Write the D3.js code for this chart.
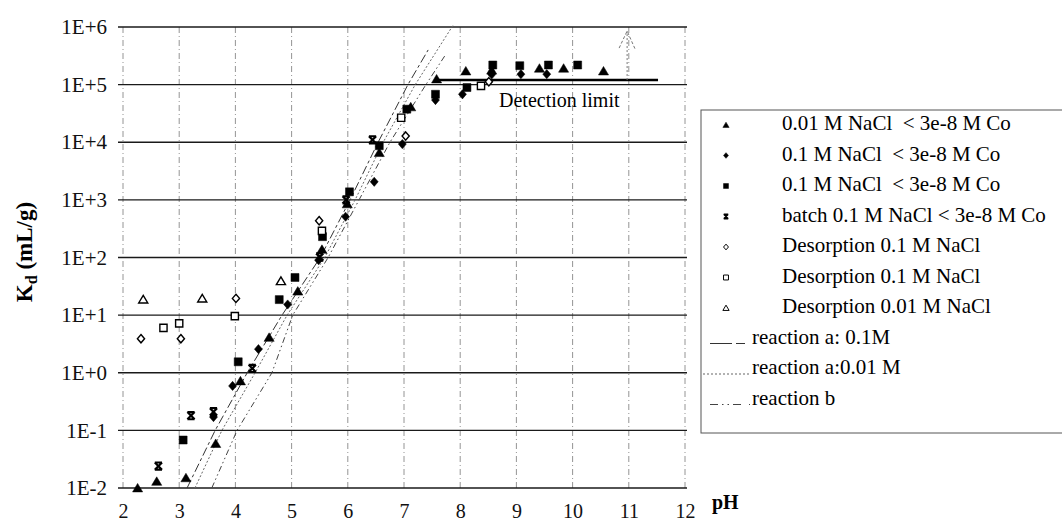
<!DOCTYPE html>
<html>
<head>
<meta charset="utf-8">
<script src="https://cdn.jsdelivr.net/npm/d3@7"></script>
<style>
  body { margin: 0; background: #fff; }
  svg { font-family: "Liberation Serif", "Times New Roman", serif; }
</style>
</head>
<body>
<div id="chart"></div>
<script>
// --- data (pH, Kd in mL/g) ---
const tri001PH = [2.26, 2.6, 3.12, 3.65, 4.09, 4.6, 5.11, 5.54, 5.99, 6.56, 7.12, 7.58, 8.1, 8.56, 9.41, 9.84, 10.55];
const tri001Kd = [0.010, 0.013, 0.015, 0.059, 0.72, 4.1, 26, 138, 850, 6600, 41000, 125000, 172000, 178000, 192000, 192000, 172000];

const dia01PH = [3.61, 3.95, 4.41, 4.93, 5.48, 5.96, 6.47, 6.97, 7.56, 8.04, 8.56, 9.08, 9.54];
const dia01Kd = [0.17, 0.59, 2.57, 15.3, 90, 510, 2060, 9300, 54000, 68000, 150000, 152000, 152000];

const sq01PH = [3.07, 4.05, 4.78, 5.06, 5.55, 6.03, 6.56, 7.05, 7.56, 8.12, 8.58, 9.06, 9.57, 10.09];
const sq01Kd = [0.068, 1.55, 18.6, 45, 230, 1380, 8700, 37500, 68000, 89000, 219000, 213000, 219000, 219000];

const batchPH = [2.63, 3.21, 3.61, 4.3, 5.5, 5.97, 6.44];
const batchKd = [0.024, 0.18, 0.21, 1.19, 102, 1000, 11000];

const desDiaPH = [2.32, 3.03, 4.01, 5.49, 7.03, 8.51];
const desDiaKd = [3.9, 3.9, 19.5, 435, 12800, 112000];

const desSqPH = [2.72, 3.0, 3.99, 5.54, 6.95, 8.37];
const desSqKd = [6.0, 7.2, 9.6, 290, 26600, 95000];

const desTriPH = [2.36, 3.41, 4.81];
const desTriKd = [18.7, 19.5, 39];

// model lines
const reactA01PH = [3.14, 3.64, 4.21, 4.83, 5.51, 6.04, 6.54, 7.07, 7.43];
const reactA01Kd = [0.01, 0.1, 1, 10, 100, 1000, 1e4, 1e5, 4e5];
const reactA001PH = [3.28, 3.76, 4.35, 4.92, 5.59, 6.13, 6.63, 7.2, 7.88];
const reactA001Kd = [0.01, 0.1, 1, 10, 100, 1000, 1e4, 1e5, 1.1e6];
const reactBPH = [3.58, 4.03, 4.65, 5.02, 5.65, 6.2, 6.75, 7.39, 7.73];
const reactBKd = [0.01, 0.1, 1, 10, 100, 1000, 1e4, 1e5, 3.2e5];

const detectPH = [7.55, 11.52];
const detectKd = [1.2e5, 1.2e5];
const arrowPH = 10.97;
const arrowKd = [1.2e5, 8.5e5];

const xTicks = [2, 3, 4, 5, 6, 7, 8, 9, 10, 11, 12];
const yTicks = [1e-2, 1e-1, 1e0, 1e1, 1e2, 1e3, 1e4, 1e5, 1e6];
const yTickLabels = ["1E-2", "1E-1", "1E+0", "1E+1", "1E+2", "1E+3", "1E+4", "1E+5", "1E+6"];

const legendMarkers = [
  "0.01 M NaCl  < 3e-8 M Co",
  "0.1 M NaCl  < 3e-8 M Co",
  "0.1 M NaCl  < 3e-8 M Co",
  "batch 0.1 M NaCl < 3e-8 M Co",
  "Desorption 0.1 M NaCl",
  "Desorption 0.1 M NaCl",
  "Desorption 0.01 M NaCl"
];
const legendLines = ["reaction a: 0.1M", "reaction a:0.01 M", "reaction b"];

// --- layout ---
const width = 1062, height = 525;
const x = d3.scaleLinear().domain([2, 12]).range([123, 685]);
const y = d3.scaleLog().domain([1e-2, 1e6]).range([488, 27]);

const svg = d3.select("#chart").append("svg")
  .attr("width", width).attr("height", height);

// vertical dash-dot grid
svg.append("g").selectAll("line").data(xTicks).enter().append("line")
  .attr("x1", d => x(d)).attr("x2", d => x(d))
  .attr("y1", y(1e6)).attr("y2", y(1e-2))
  .attr("stroke", "#888").attr("stroke-width", 0.9)
  .attr("stroke-dasharray", "6,3,1,3");

// horizontal grid
svg.append("g").selectAll("line").data(yTicks).enter().append("line")
  .attr("x1", 118).attr("x2", 687)
  .attr("y1", d => y(d)).attr("y2", d => y(d))
  .attr("stroke", "#1a1a1a").attr("stroke-width", 1.3);

// axes (labels only)
const yAxis = d3.axisLeft(y).tickValues(yTicks).tickSize(0).tickPadding(11)
  .tickFormat((d, i) => yTickLabels[i]);
svg.append("g").attr("transform", "translate(118,0)").call(yAxis)
  .call(g => g.select(".domain").remove())
  .selectAll("text").attr("font-size", 21).attr("fill", "#111")
  .attr("font-family", "Liberation Serif");

const xAxis = d3.axisBottom(x).tickValues(xTicks).tickSize(0).tickPadding(0);
svg.append("g").attr("transform", "translate(0,488)").call(xAxis)
  .call(g => g.select(".domain").remove())
  .selectAll("text").attr("font-size", 20).attr("fill", "#111")
  .attr("font-family", "Liberation Serif")
  .attr("dy", null).attr("y", 30);

// axis titles
svg.append("text").attr("x", 712).attr("y", 509)
  .attr("font-size", 20).attr("font-weight", "bold").text("pH");

const yt = svg.append("text")
  .attr("transform", "translate(32,252) rotate(-90)")
  .attr("text-anchor", "middle")
  .attr("font-size", 23).attr("font-weight", "bold");
yt.append("tspan").text("K");
yt.append("tspan").attr("font-size", 16).attr("dy", 5).text("d");
yt.append("tspan").attr("dy", -5).text(" (mL/g)");

// model lines
const line = d3.line().x(d => x(d[0])).y(d => y(d[1]));
const lineStyles = [
  { ph: reactA01PH, kd: reactA01Kd, dash: "9,3,3,3", color: "#333" },
  { ph: reactA001PH, kd: reactA001Kd, dash: "2,2", color: "#666" },
  { ph: reactBPH, kd: reactBKd, dash: "6,3,1.5,3,1.5,3", color: "#444" }
];
lineStyles.forEach(s => {
  svg.append("path")
    .datum(d3.zip(s.ph, s.kd))
    .attr("d", line)
    .attr("fill", "none")
    .attr("stroke", s.color).attr("stroke-width", 1)
    .attr("stroke-dasharray", s.dash);
});

// detection limit
svg.append("path").datum(d3.zip(detectPH, detectKd)).attr("d", line)
  .attr("stroke", "#000").attr("stroke-width", 2.6).attr("fill", "none");
svg.append("text").attr("x", 499).attr("y", 107)
  .attr("font-size", 20).text("Detection limit");

// arrow
svg.append("line")
  .attr("x1", x(arrowPH)).attr("x2", x(arrowPH))
  .attr("y1", y(arrowKd[0])).attr("y2", y(arrowKd[1]))
  .attr("stroke", "#777").attr("stroke-width", 1).attr("stroke-dasharray", "2,2");
svg.append("path")
  .attr("d", `M${x(arrowPH) - 8},${y(arrowKd[1]) + 17} L${x(arrowPH)},${y(arrowKd[1])} L${x(arrowPH) + 8},${y(arrowKd[1]) + 18}`)
  .attr("fill", "none").attr("stroke", "#777").attr("stroke-width", 1)
  .attr("stroke-dasharray", "3,2");

// marker shapes, s = half size
function markerPath(type, s) {
  switch (type) {
    case "tri": return `M0,${-s} L${s * 1.1},${s * 0.85} L${-s * 1.1},${s * 0.85} Z`;
    case "sq": return `M${-s},${-s} H${s} V${s} H${-s} Z`;
    case "dia": return `M0,${-s * 1.15} L${s},0 L0,${s * 1.15} L${-s},0 Z`;
    case "x": return `M${-s},${-s} L${s},${s} M${s},${-s} L${-s},${s} M${-s},${-s} H${s} M${-s},${s} H${s}`;
  }
}
const series = [
  { ph: tri001PH, kd: tri001Kd, type: "tri", fill: true },
  { ph: dia01PH, kd: dia01Kd, type: "dia", fill: true },
  { ph: sq01PH, kd: sq01Kd, type: "sq", fill: true },
  { ph: batchPH, kd: batchKd, type: "x", fill: false },
  { ph: desDiaPH, kd: desDiaKd, type: "dia", fill: false },
  { ph: desSqPH, kd: desSqKd, type: "sq", fill: false },
  { ph: desTriPH, kd: desTriKd, type: "tri", fill: false }
];
const markerSize = { tri: 4.6, sq: 4, dia: 4, x: 3.6 };
function styleMarker(sel, s, k) {
  if (s.type === "x") {
    sel.attr("fill", "none").attr("stroke", "#000").attr("stroke-width", 2.2 * k);
  } else if (s.fill) {
    sel.attr("fill", "#000").attr("stroke", "#000").attr("stroke-width", 0.5);
  } else {
    sel.attr("fill", "#fff").attr("stroke", "#000").attr("stroke-width", 1.4 * k);
  }
}
series.forEach(s => {
  const open = !s.fill && s.type !== "x";
  const sz = markerSize[s.type] * (open ? 0.9 : 1);
  const g = svg.append("g");
  g.selectAll("path").data(d3.zip(s.ph, s.kd)).enter().append("path")
    .attr("transform", d => `translate(${x(d[0])},${y(d[1])})`)
    .attr("d", markerPath(s.type, sz))
    .call(sel => styleMarker(sel, s, 1));
});

// legend
const lg = svg.append("g");
lg.append("rect").attr("x", 701).attr("y", 110).attr("width", 380).attr("height", 323)
  .attr("fill", "#fff").attr("stroke", "#555").attr("stroke-width", 1);
const rowY = i => 130 + 30.5 * i;
series.forEach((s, i) => {
  lg.append("path")
    .attr("transform", `translate(726,${rowY(i) - 5})`)
    .attr("d", markerPath(s.type, markerSize[s.type] * 0.62))
    .call(sel => styleMarker(sel, s, 0.7));
  lg.append("text").attr("x", 782).attr("y", rowY(i))
    .attr("font-size", 21).attr("xml:space", "preserve").text(legendMarkers[i]);
});
const legendDash = ["22,4,9,10", "2,2", "8,4,1.5,4,1.5,4,8"];
legendLines.forEach((t, i) => {
  const r = rowY(7 + i);
  lg.append("line").attr("x1", i === 1 ? 703 : 710).attr("x2", 750)
    .attr("y1", r).attr("y2", r)
    .attr("stroke", lineStyles[i].color).attr("stroke-width", 1.2)
    .attr("stroke-dasharray", legendDash[i]);
  lg.append("text").attr("x", 752).attr("y", r)
    .attr("font-size", 21).text(t);
});
</script>
</body>
</html>
